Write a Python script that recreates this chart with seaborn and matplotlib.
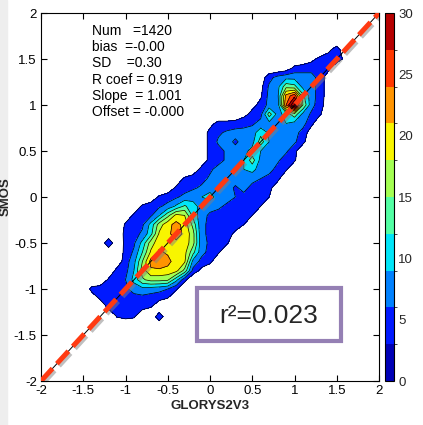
import numpy as np
import matplotlib
matplotlib.use("Agg")
import matplotlib.pyplot as plt
import matplotlib.patheffects as pe
from matplotlib.colors import ListedColormap, BoundaryNorm
from matplotlib.cm import ScalarMappable
from matplotlib.patches import Rectangle
from matplotlib.ticker import FuncFormatter
import seaborn as sns

# ---------------- data (2-D histogram counts, 0.1 bins) ----------------
x_first, x_step, n_x = -1.5, 0.1, 33          # bin centres -1.5 .. 1.7
y_rows = [1.7, 1.6, 1.5, 1.4, 1.3, 1.2, 1.1, 1.0, 0.9, 0.8, 0.7, 0.6, 0.5,
          0.4, 0.3, 0.2, 0.1, 0.0, -0.1, -0.2, -0.3, -0.4, -0.5, -0.6, -0.7,
          -0.8, -0.9, -1.0, -1.1, -1.2, -1.3, -1.4]
row_start = [0.0, 1.4, 1.2, 0.9, 0.6, 0.6, 0.6, 0.5, 0.4, 0.0, -0.1, -0.1, -0.1,
             -0.1, -0.2, -0.4, -0.5, -0.7, -0.9, -1.0, -1.1, -1.1, -1.3, -1.1, -1.1,
             -1.2, -1.3, -1.5, -1.4, -1.3, -1.2, 0.0]
row_counts = [
    [],
    [2, 5],
    [2, 4, 5, 5, 2],
    [1, 4, 5, 5, 5, 4],
    [1, 5, 7, 8, 8, 7, 7, 5, 1],
    [2, 6.5, 8, 14, 13, 8, 7, 5, 1],
    [2.5, 7, 8, 22, 26, 13, 7, 5, 1],
    [2, 4, 7, 7, 24, 34, 15, 7, 4.5, 1],
    [2, 4, 5, 13.5, 8, 10, 14, 8, 5.5, 3.5],
    [2, 4, 4, 4.5, 5, 5.5, 7, 8, 9, 9, 8, 7, 4],
    [1, 4, 5.5, 6.5, 7, 7, 7.5, 11, 8.5, 8, 7.5, 7, 5, 1],
    [1, 4, 6.5, 7, 5.5, 7, 8, 13.5, 9, 8, 7, 6.5, 4, 0],
    [1, 4, 5, 6.5, 7, 8, 10, 9, 8, 7.5, 6.5, 4, 0],
    [1, 4, 5, 6.5, 7.5, 9, 13.5, 8, 7, 6.5, 4.5, 3.5, 0],
    [1, 4, 5.5, 7, 7.5, 8.5, 9, 10, 7.5, 7, 5, 3.5, 0],
    [1, 3.5, 4.5, 5, 6.5, 7, 8, 7.5, 7.5, 7, 6, 5, 4, 0],
    [1, 3.5, 4.5, 5.5, 6.5, 8, 9, 7.5, 5.5, 7, 5, 4.5, 4, 1],
    [1, 3.5, 4.5, 5.5, 7, 8, 9, 10, 8, 7, 6, 5, 4.5, 4, 3, 0],
    [1, 3.5, 4.5, 5.5, 7, 9.5, 12.5, 10, 8, 7, 6.5, 5.5, 5, 4.5, 4, 3, 0],
    [1, 3.5, 4.5, 5.5, 9, 14, 19, 18, 11, 7, 5.5, 5, 4.5, 4, 3.5, 3, 0],
    [0, 3.5, 4.5, 5.5, 10, 16.5, 20, 22, 20, 14, 6.5, 5.5, 5, 4.5, 4, 3, 0],
    [0.5, 4, 5, 6.5, 11, 18.5, 20.5, 22, 20.5, 16, 6.5, 5.5, 5, 4, 2.5, 0],
    [0, 5.9, 0, 4, 5.5, 10, 16.5, 20, 20.5, 20.5, 20, 16, 7, 5.5, 4.5, 3.5, 0],
    [0.5, 4, 6.5, 12, 18.5, 21.5, 20.5, 20, 19, 13, 7, 5, 3.5, 0],
    [1, 4.5, 8, 15, 22, 23, 22, 19.5, 18.5, 8, 5, 4, 0],
    [0.5, 4, 5, 9, 16.5, 20.5, 20.5, 20, 19, 14, 5, 2, 0],
    [0.5, 3.5, 4.5, 6, 10, 14.5, 16, 16, 15.5, 10, 4, 0],
    [0, 4, 4.5, 4.5, 5, 5.5, 7, 8, 7.5, 7, 6, 3.5, 0],
    [1, 3.5, 4.5, 5, 5, 5, 5, 4.5, 4, 3, 0],
    [0.5, 3.5, 4.5, 5, 4.5, 4, 3, 0],
    [0, 3.2, 4, 3.5, 0, 0, 5.5, 0],
    [],
]
level_edges = list(range(0, 31, 3))        # colour classes of the colour bar
cbar_ticks = [0, 5, 10, 15, 20, 25, 30]
axis_ticks = [-2, -1.5, -1, -0.5, 0, 0.5, 1, 1.5, 2]
one_to_one = [-2, 2]
stats_lines = ["Num   =1420", "bias  =-0.00", "SD    =0.30",
               "R coef = 0.919", "Slope  = 1.001", "Offset = -0.000"]
r2_label = "r\u00b2=0.023"
x_label, y_label = "GLORYS2V3", "SMOS"

# ---------------- build grid ----------------
x_bins = x_first + x_step * np.arange(n_x)
y_bins = np.array(y_rows)
Z = np.zeros((len(y_rows), n_x))
for j, (xs, vals) in enumerate(zip(row_start, row_counts)):
    i0 = int(round((xs - x_first) / x_step))
    Z[j, i0:i0 + len(vals)] = vals
order = np.argsort(y_bins)
y_bins = y_bins[order]
Z = Z[order]
X, Y = np.meshgrid(x_bins, y_bins)

# ---------------- style ----------------
sns.set_style("ticks")
plt.rcParams['font.family'] = ['Liberation Sans', 'DejaVu Sans']
plt.rcParams['axes.linewidth'] = 0.8

jet = plt.get_cmap('jet')
cmap = ListedColormap(jet((np.arange(10) + 0.5) / 10))
norm = BoundaryNorm(level_edges, cmap.N)

fig = plt.figure(figsize=(4.23, 4.25), dpi=100)
fig.add_artist(Rectangle((0, 0), 7 / 423, 1, transform=fig.transFigure,
                         color='#eeeeee', zorder=-5))

ax = fig.add_axes([41 / 423, 1 - 381 / 425, 338 / 423, 368 / 425])
ax.contourf(X, Y, Z, levels=level_edges[1:], cmap=cmap, norm=norm, extend='max')
ax.contour(X, Y, Z, levels=level_edges[1:], colors='k', linewidths=0.5)

ax.plot(one_to_one, one_to_one, color='k', lw=0.7, zorder=3)
ax.plot(one_to_one, one_to_one, color='#ff3a12', lw=3.6, dashes=(3.4, 1.3),
        dash_capstyle='butt', zorder=4,
        path_effects=[pe.SimpleLineShadow(offset=(1.5, -1.5), shadow_color='gray', alpha=0.5),
                      pe.Normal()])

ax.set_xlim(-2, 2)
ax.set_ylim(-2, 2)
ax.set_xticks(axis_ticks)
ax.set_yticks(axis_ticks)
fmt = FuncFormatter(lambda v, p: f"{v:g}")
ax.xaxis.set_major_formatter(fmt)
ax.yaxis.set_major_formatter(fmt)
ax.tick_params(direction='in', top=True, right=True, length=4, width=0.8,
               labelsize=9.5, pad=3, colors='k')
for s in ax.spines.values():
    s.set_color('k')
ax.set_xlabel(x_label, fontsize=9.5, fontweight='bold', labelpad=2)
ax.set_ylabel(y_label, fontsize=9.5, fontweight='bold')
ax.yaxis.set_label_coords(-0.087, 0.5)

ax.text(-1.40, 1.88, "\n".join(stats_lines), ha='left', va='top',
        fontsize=10, linespacing=1.2, color='k')

cax = fig.add_axes([385 / 423, 1 - 381 / 425, 9 / 423, 368 / 425])
cb = fig.colorbar(ScalarMappable(norm=norm, cmap=cmap), cax=cax, ticks=cbar_ticks)
cb.outline.set_linewidth(0.8)
cb.outline.set_edgecolor('k')
cax.tick_params(length=0, labelsize=9.5, pad=3)

fig.add_artist(Rectangle((197 / 423, 1 - 341 / 425), 144 / 423, 53 / 425,
                         transform=fig.transFigure, facecolor='white',
                         edgecolor='#9580b4', lw=3, zorder=10))
fig.text(268.5 / 423, 1 - 316 / 425, r2_label, ha='center', va='center',
         fontsize=19, zorder=11)

fig.savefig("out.png", dpi=100)
